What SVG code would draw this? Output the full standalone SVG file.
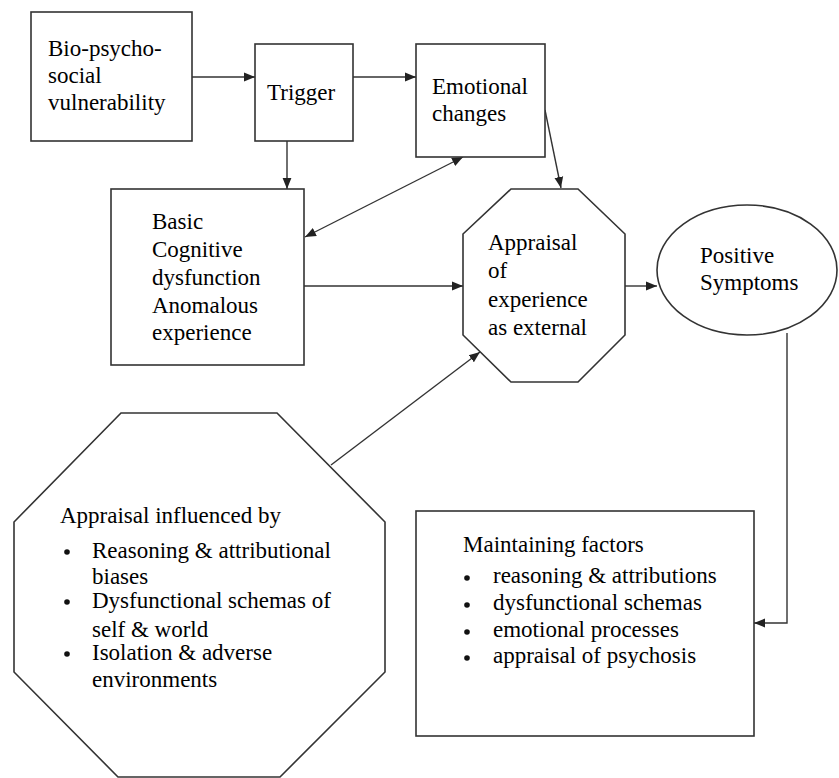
<svg xmlns="http://www.w3.org/2000/svg" width="839" height="778" viewBox="0 0 839 778">
  <defs>
    <marker id="arrow" viewBox="0 0 10 10" refX="10" refY="5" markerWidth="11" markerHeight="11" markerUnits="userSpaceOnUse" orient="auto-start-reverse">
      <path d="M0,1 L10,5 L0,9 Z" fill="#222"/>
    </marker>
    <style>
      .shape { fill: #fff; stroke: #333; stroke-width: 1.6; }
      .edge { fill: none; stroke: #333; stroke-width: 1.4; }
      .dot { fill: #111; }
    </style>
  </defs>

  <rect width="839" height="778" fill="#fff"/>

  <!-- connectors: thin dark lines ending in filled arrowheads -->
  <g id="connectors">
    <line class="edge" x1="192" y1="77" x2="255" y2="77" marker-end="url(#arrow)"/>
    <line class="edge" x1="353" y1="77" x2="416" y2="77" marker-end="url(#arrow)"/>
    <line class="edge" x1="287" y1="141" x2="287" y2="189" marker-end="url(#arrow)"/>
    <line class="edge" x1="305" y1="237" x2="463" y2="157" marker-start="url(#arrow)" marker-end="url(#arrow)"/>
    <line class="edge" x1="545" y1="110" x2="561" y2="188" marker-end="url(#arrow)"/>
    <line class="edge" x1="304" y1="286" x2="463" y2="286" marker-end="url(#arrow)"/>
    <line class="edge" x1="625" y1="286" x2="657" y2="286" marker-end="url(#arrow)"/>
    <line class="edge" x1="331" y1="465" x2="480" y2="352" marker-end="url(#arrow)"/>
    <polyline class="edge" points="787,333 787,623 754,623" marker-end="url(#arrow)"/>
  </g>

  <g id="vulnerability">
    <rect class="shape" x="31" y="12" width="161" height="129"/>
    <text x="48" y="56" font-family="Liberation Serif" font-size="23">Bio-psycho-</text>
    <text x="48" y="83" font-family="Liberation Serif" font-size="23">social</text>
    <text x="48" y="110" font-family="Liberation Serif" font-size="23">vulnerability</text>
  </g>

  <g id="trigger">
    <rect class="shape" x="255" y="44" width="98" height="97"/>
    <text x="267" y="100" font-family="Liberation Serif" font-size="23">Trigger</text>
  </g>

  <g id="emotional-changes">
    <rect class="shape" x="416" y="44" width="129" height="113"/>
    <text x="432" y="94" font-family="Liberation Serif" font-size="23">Emotional</text>
    <text x="432" y="121" font-family="Liberation Serif" font-size="23">changes</text>
  </g>

  <g id="basic-cognitive">
    <rect class="shape" x="111" y="189" width="193" height="176"/>
    <text x="152" y="229" font-family="Liberation Serif" font-size="23">Basic</text>
    <text x="152" y="257" font-family="Liberation Serif" font-size="23">Cognitive</text>
    <text x="152" y="285" font-family="Liberation Serif" font-size="23">dysfunction</text>
    <text x="152" y="313" font-family="Liberation Serif" font-size="23">Anomalous</text>
    <text x="152" y="340" font-family="Liberation Serif" font-size="23">experience</text>
  </g>

  <g id="appraisal-external">
    <polygon class="shape" points="511,189 578,189 625,234 625,335 578,382 511,382 463,335 463,234"/>
    <text x="488" y="250" font-family="Liberation Serif" font-size="23">Appraisal</text>
    <text x="488" y="278" font-family="Liberation Serif" font-size="23">of</text>
    <text x="488" y="307" font-family="Liberation Serif" font-size="23">experience</text>
    <text x="488" y="335" font-family="Liberation Serif" font-size="23">as external</text>
  </g>

  <g id="positive-symptoms">
    <ellipse class="shape" cx="747" cy="270" rx="90" ry="65"/>
    <text x="700" y="263" font-family="Liberation Serif" font-size="23">Positive</text>
    <text x="700" y="290" font-family="Liberation Serif" font-size="23">Symptoms</text>
  </g>

  <g id="appraisal-influences">
    <polygon class="shape" points="121,413 277,413 385,522 385,672 280,777 118,777 14,672 14,522"/>
    <text x="60" y="523" font-family="Liberation Serif" font-size="23">Appraisal influenced by</text>
    <circle class="dot" cx="67" cy="552" r="2.8"/>
    <text x="92" y="558" font-family="Liberation Serif" font-size="23">Reasoning &amp; attributional</text>
    <text x="92" y="584" font-family="Liberation Serif" font-size="23">biases</text>
    <circle class="dot" cx="67" cy="602" r="2.8"/>
    <text x="92" y="608" font-family="Liberation Serif" font-size="23">Dysfunctional schemas of</text>
    <text x="92" y="637" font-family="Liberation Serif" font-size="23">self &amp; world</text>
    <circle class="dot" cx="67" cy="654" r="2.8"/>
    <text x="92" y="660" font-family="Liberation Serif" font-size="23">Isolation &amp; adverse</text>
    <text x="92" y="687" font-family="Liberation Serif" font-size="23">environments</text>
  </g>

  <g id="maintaining-factors">
    <rect class="shape" x="416" y="511" width="338" height="225"/>
    <text x="463" y="552" font-family="Liberation Serif" font-size="23">Maintaining factors</text>
    <circle class="dot" cx="467" cy="578" r="2.8"/>
    <text x="493" y="583" font-family="Liberation Serif" font-size="23">reasoning &amp; attributions</text>
    <circle class="dot" cx="467" cy="605" r="2.8"/>
    <text x="493" y="610" font-family="Liberation Serif" font-size="23">dysfunctional schemas</text>
    <circle class="dot" cx="467" cy="632" r="2.8"/>
    <text x="493" y="637" font-family="Liberation Serif" font-size="23">emotional processes</text>
    <circle class="dot" cx="467" cy="658" r="2.8"/>
    <text x="493" y="663" font-family="Liberation Serif" font-size="23">appraisal of psychosis</text>
  </g>
</svg>
